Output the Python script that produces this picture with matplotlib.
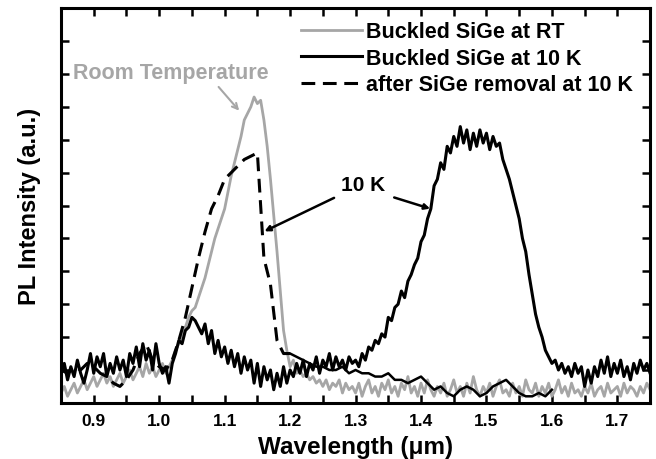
import numpy as np
import matplotlib
matplotlib.use('Agg')
import matplotlib.pyplot as plt

plt.rcParams['font.family'] = ['Liberation Sans', 'DejaVu Sans']
plt.rcParams['font.weight'] = 'bold'

# wavelength grid (um) for the two noisy spectra, 0.005 step
wl = np.round(np.arange(0.85, 1.7501, 0.005), 3)

# Buckled SiGe at RT (grey)
rt = [0.3, 0.5, 0.2, 0.4, 0.6, 0.3, 0.5, 0.7, 0.4, 0.6,
      0.8, 0.5, 0.7, 0.9, 0.6, 0.8, 0.5, 0.7, 0.9, 0.6,
      0.8, 1.0, 0.7, 0.9, 1.1, 0.8, 1.2, 0.9, 1.1, 0.8,
      1.0, 1.2, 0.9, 1.1, 1.3, 1.6, 1.8, 2.1, 2.3, 2.6,
      2.8, 2.9, 3.2, 3.5, 3.8, 4.2, 4.6, 5.0, 5.3, 5.6,
      5.9, 6.4, 6.9, 7.3, 7.7, 8.1, 8.6, 8.8, 9.0, 9.3,
      9.1, 9.2, 8.6, 7.8, 6.8, 5.7, 4.6, 3.4, 2.2, 1.6,
      1.1, 1.3, 0.9, 1.0, 0.8, 0.9, 0.7, 0.8, 0.6, 0.7,
      0.5, 0.7, 0.4, 0.6, 0.5, 0.7, 0.3, 0.6, 0.4, 0.5,
      0.3, 0.6, 0.2, 0.5, 0.7, 0.3, 0.5, 0.2, 0.6, 0.4,
      0.7, 0.3, 0.5, 0.2, 0.6, 0.4, 0.8, 0.3, 0.5, 0.2,
      0.6, 0.3, 0.7, 0.4, 0.2, 0.5, 0.3, 0.6, 0.2, 0.4,
      0.7, 0.3, 0.5, 0.2, 0.6, 0.3, 0.8, 0.4, 0.2, 0.5,
      0.3, 0.6, 0.2, 0.5, 0.7, 0.3, 0.4, 0.2, 0.6, 0.3,
      0.5, 0.2, 0.7, 0.4, 0.3, 0.6, 0.2, 0.5, 0.3, 0.6,
      0.2, 0.4, 0.7, 0.3, 0.5, 0.2, 0.6, 0.3, 0.4, 0.2,
      0.5, 0.3, 0.6, 0.2, 0.4, 0.5, 0.2, 0.6, 0.3, 0.4,
      0.5, 0.2, 0.6, 0.3, 0.5, 0.4, 0.2, 0.5, 0.3, 0.6,
      0.4]

# Buckled SiGe at 10 K (black solid)
k10 = [0.9, 1.2, 0.7, 1.1, 0.8, 1.3, 0.9, 0.6, 1.0, 1.5,
       0.9, 1.4, 1.1, 1.5, 0.8, 1.2, 0.9, 1.4, 1.0, 1.3,
       0.8, 1.5, 1.2, 1.7, 1.1, 1.8, 1.3, 1.6, 1.0, 1.8,
       1.2, 0.9, 1.1, 0.6, 1.2, 1.5, 1.9, 1.8, 2.2, 2.3,
       2.6, 2.5, 2.3, 2.1, 2.4, 1.8, 2.2, 1.5, 1.9, 1.4,
       1.7, 1.2, 1.6, 1.1, 1.5, 0.9, 1.4, 1.0, 1.3, 0.6,
       1.2, 0.5, 1.1, 0.7, 1.0, 0.4, 0.9, 0.5, 1.1, 0.6,
       1.0, 0.8, 1.2, 0.9, 1.3, 0.8, 1.2, 1.0, 1.4, 0.9,
       1.3, 1.1, 1.5, 1.0, 1.4, 1.1, 1.3, 1.0, 1.4, 1.2,
       1.3, 1.1, 1.5, 1.3, 1.7, 1.6, 1.9, 1.8, 2.1, 2.0,
       2.6, 2.5, 2.9, 3.0, 3.4, 3.2, 3.7, 3.9, 4.2, 4.4,
       4.9, 5.1, 5.6, 5.9, 6.6, 6.8, 7.3, 7.1, 7.8, 7.6,
       8.1, 7.8, 8.4, 7.9, 8.3, 7.7, 8.2, 7.8, 8.3, 7.9,
       8.2, 7.7, 8.1, 7.8, 7.9, 7.4, 7.1, 6.8, 6.4, 6.0,
       5.6, 5.0, 4.6, 3.9, 3.3, 2.7, 2.3, 2.0, 1.6, 1.4,
       1.2, 1.3, 1.0, 1.2, 0.9, 1.1, 0.8, 1.2, 0.9, 1.1,
       0.5, 1.0, 0.6, 1.1, 0.8, 1.3, 0.9, 1.4, 0.8, 1.2,
       0.9, 1.3, 0.8, 1.1, 0.7, 1.2, 0.9, 1.3, 1.0, 1.2,
       0.9]

# after SiGe removal at 10 K (black dashed), 0.01 step
wl_rm = np.round(np.arange(0.85, 1.6001, 0.01), 2)
removed = [1.0, 0.9, 1.1, 1.0, 1.2, 1.1, 0.9, 0.8, 0.6, 0.5,
           0.7, 1.0, 1.5, 1.8, 1.3, 1.1, 1.0, 1.3, 1.9, 2.6,
           3.5, 4.4, 5.2, 5.9, 6.3, 6.8, 7.0, 7.2, 7.4, 7.5,
           7.6, 4.4, 3.6, 1.9, 1.5, 1.5, 1.4, 1.3, 1.2, 1.1,
           1.1, 1.0, 1.0, 1.1, 0.9, 1.0, 0.9, 0.9, 0.8, 0.8,
           0.9, 0.7, 0.7, 0.6, 0.7, 0.8, 0.6, 0.4, 0.5, 0.3,
           0.2, 0.4, 0.5, 0.4, 0.2, 0.3, 0.5, 0.6, 0.7, 0.5,
           0.3, 0.2, 0.2, 0.3, 0.2, 0.4]

grey = '#a6a6a6'

fig = plt.figure(figsize=(6.56, 4.60), dpi=100)
ax = fig.add_axes([0.093, 0.122, 0.898, 0.858])

ax.plot(wl, rt, color=grey, lw=2.0, label='Buckled SiGe at RT')
ax.plot(wl, k10, color='black', lw=2.2, label='Buckled SiGe at 10 K')
cut = 36  # index of 1.21 um: dashes stop, the tail is drawn plain
ax.plot(wl_rm[:cut], removed[:cut], color='black', lw=2.2, ls=(0, (4.5, 2.5)),
        label='after SiGe removal at 10 K')
ax.plot(wl_rm[cut - 1:], removed[cut - 1:], color='black', lw=1.8)

ax.set_xlim(0.85, 1.75)
ax.set_ylim(0, 12)
ax.set_xticks(np.arange(0.9, 1.71, 0.1))
ax.set_xticks(np.arange(0.85, 1.751, 0.05), minor=True)
ax.set_yticks(np.arange(1, 12))
ax.set_yticklabels([])
ax.tick_params(which='both', direction='in', top=True, right=True,
               length=6, width=1.8, labelsize=12.5)
ax.tick_params(axis='x', pad=7)
for s in ax.spines.values():
    s.set_linewidth(2.2)

ax.set_xlabel('Wavelength (\u03bcm)', fontsize=17.5, fontweight='bold', labelpad=5)
ax.set_ylabel('PL Intensity (a.u.)', fontsize=17, fontweight='bold', labelpad=11)

ax.text(1.018, 10.06, 'Room Temperature', color=grey, fontsize=15.5,
        fontweight='bold', ha='center', va='center')
ax.annotate('', xy=(1.125, 8.82), xytext=(1.088, 9.67),
            arrowprops=dict(arrowstyle='->', color=grey, lw=1.5))
ax.text(1.311, 6.64, '10 K', fontsize=15, fontweight='bold',
        ha='center', va='center')
ax.annotate('', xy=(1.157, 5.18), xytext=(1.271, 6.27),
            arrowprops=dict(arrowstyle='-|>', color='black', lw=1.8,
                            mutation_scale=8))
ax.annotate('', xy=(1.418, 5.88), xytext=(1.355, 6.27),
            arrowprops=dict(arrowstyle='-|>', color='black', lw=1.8,
                            mutation_scale=8))

leg = ax.legend(loc='upper right', bbox_to_anchor=(0.993, 1.0), frameon=False,
                fontsize=15.5, handlelength=2.8, handletextpad=0.2,
                labelspacing=0.26, borderaxespad=0.2)
for t in leg.get_texts():
    t.set_fontweight('bold')

fig.savefig('out.png', dpi=100)
